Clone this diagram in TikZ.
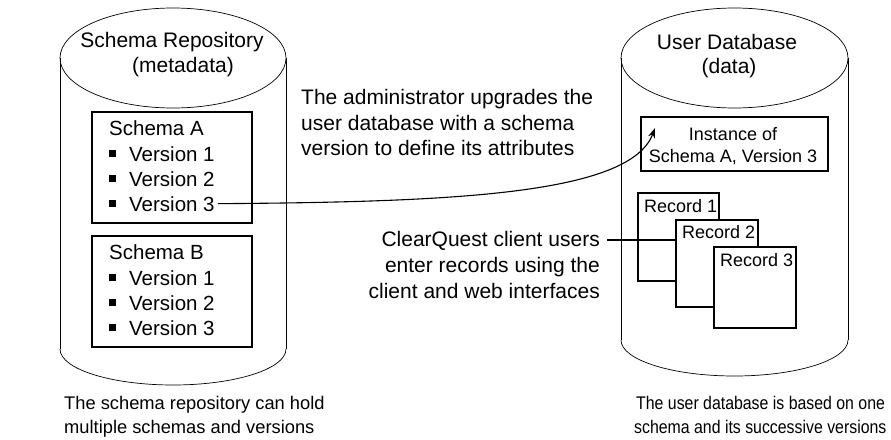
\documentclass[tikz,border=0pt]{standalone}
\usepackage{fontspec}
\setmainfont{Liberation Sans}
\usetikzlibrary{arrows.meta}
\begin{document}
\begin{tikzpicture}[x=1pt,y=-1pt,
  outline/.style={line width=0.9pt},
  rim/.style={line width=0.7pt},
  box/.style={draw, line width=1.1pt, fill=white, inner sep=0pt, outer sep=0pt},
  head/.style={inner sep=0pt, font=\fontsize{21}{25}\selectfont},
  lbl/.style={inner sep=0pt, font=\fontsize{20.5}{24}\selectfont},
  note/.style={inner sep=0pt, font=\fontsize{21}{25}\selectfont},
  small/.style={inner sep=0pt, font=\fontsize{18}{22}\selectfont},
  captxt/.style={inner sep=0pt, font=\fontsize{18.3}{22}\selectfont},
  conn/.style={line width=1.1pt},
]
\useasboundingbox (0,0) rectangle (891,439);

% ---- schema repository cylinder
\draw[rim] (173,58) ellipse [x radius=113pt, y radius=50pt];
\draw[outline] (60,58) -- (60,349);
\draw[outline] (286,58) -- (286,349);
\draw[rim] (60,349) arc[start angle=180, end angle=360, x radius=113pt, y radius=36pt];
\node[head, anchor=base] (repo1) at (172,47) {Schema Repository};
\node[head, anchor=base] (repo2) at (183,72) {(metadata)};

% ---- user database cylinder
\draw[rim] (734.5,58) ellipse [x radius=113.5pt, y radius=50pt];
\draw[outline] (621,58) -- (621,340);
\draw[outline] (848,58) -- (848,340);
\draw[rim] (621,340) arc[start angle=180, end angle=360, x radius=113.5pt, y radius=36pt];
\node[head, anchor=base] (udb1) at (727,49) {User Database};
\node[head, anchor=base] (udb2) at (729,73) {(data)};

% ---- schema A
\node[box, minimum width=160pt, minimum height=111pt, anchor=north west] (schemaA) at (92,112) {};
\node[lbl, anchor=base west] (aT) at (109,135) {Schema A};
\foreach \i/\yy in {1/161,2/186,3/211}{
  \node[lbl, anchor=base west] (aV\i) at (129,\yy) {Version \i};
  \fill (109,\yy-11) rectangle (115.5,\yy-4.5);
}

% ---- schema B
\node[box, minimum width=160pt, minimum height=111pt, anchor=north west] (schemaB) at (92,236) {};
\node[lbl, anchor=base west] (bT) at (109,259) {Schema B};
\foreach \i/\yy in {1/285,2/310,3/335}{
  \node[lbl, anchor=base west] (bV\i) at (129,\yy) {Version \i};
  \fill (109,\yy-11) rectangle (115.5,\yy-4.5);
}

% ---- instance box
\node[box, minimum width=187pt, minimum height=54pt, anchor=north west] (inst) at (641,117) {};
\node[small, anchor=base] (inst1) at (733,140) {Instance of};
\node[small, anchor=base] (inst2) at (733,162) {Schema A, Version 3};
\coordinate (tip) at (655,128);

% ---- upgrade note and connector
\node[note, anchor=base west] (up1) at (301,104) {The administrator upgrades the};
\node[note, anchor=base west] (up2) at (301,130) {user database with a schema};
\node[note, anchor=base west] (up3) at (301,155) {version to define its attributes};
\draw[conn, -{Stealth[length=10pt,width=7pt]}] ([xshift=3pt]aV3.east)
  .. controls (450,202) and (630,195) .. (tip);

% ---- client note
\node[note, anchor=base east] (cq1) at (600,246) {ClearQuest client users};
\node[note, anchor=base east] (cq2) at (600,272) {enter records using the};
\node[note, anchor=base east] (cq3) at (600,298) {client and web interfaces};

% ---- stacked records
\node[box, minimum width=81pt, minimum height=88pt, anchor=north west] (rec1) at (638,193) {};
\node[small, anchor=base west] (rec1t) at (644,212) {Record 1};
\node[box, minimum width=82pt, minimum height=87pt, anchor=north west] (rec2) at (676,220) {};
\node[small, anchor=base west] (rec2t) at (682,238) {Record 2};
\node[box, minimum width=82pt, minimum height=81pt, anchor=north west] (rec3) at (714,247) {};
\node[small, anchor=base west] (rec3t) at (720,266) {Record 3};
\draw[line width=1.8pt] ([xshift=7pt]cq1.east) -- (rec2.west |- cq1.east);

% ---- captions
\node[captxt, anchor=base west] (capL1) at (64,409) {The schema repository can hold};
\node[captxt, anchor=base west] (capL2) at (64,433) {multiple schemas and versions};
\node[captxt, anchor=base west] (capR1) at (636,409) {\scalebox{0.867}[1]{The user database is based on one}};
\node[captxt, anchor=base west] (capR2) at (634,433) {\scalebox{0.867}[1]{schema and its successive versions}};
\end{tikzpicture}
\end{document}
